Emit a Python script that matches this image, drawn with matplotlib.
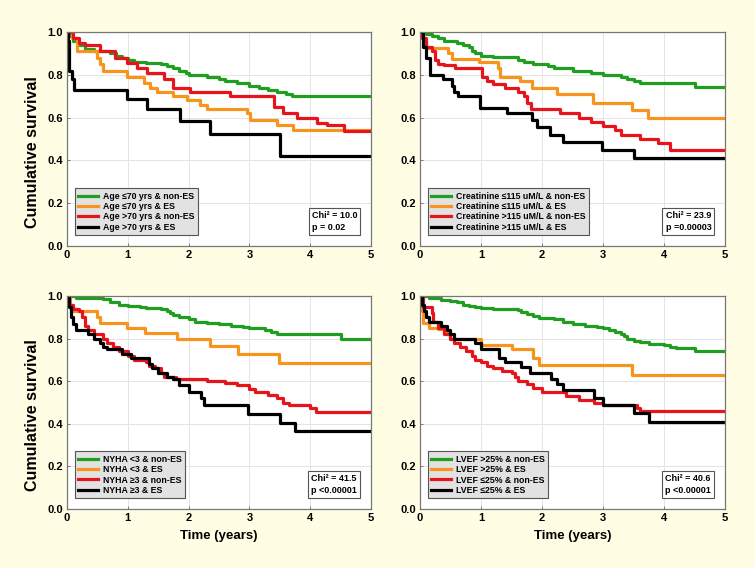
import matplotlib
matplotlib.use("Agg")
import matplotlib.pyplot as plt

plt.rcParams['font.family'] = ['Liberation Sans', 'DejaVu Sans']
plt.rcParams['font.weight'] = 'bold'

BG = '#fffde3'
COLORS = ['#1f9e1f', '#f7941d', '#e8141c', '#000000']

# ---- panel 1: age ----
age_labels = ['Age ≤70 yrs & non-ES', 'Age ≤70 yrs & ES',
              'Age >70 yrs & non-ES', 'Age >70 yrs & ES']
age_t = [
    [0, 0.05, 0.1, 0.2, 0.3, 0.45, 0.7, 0.8, 0.9, 1.0, 1.1, 1.3, 1.55, 1.65, 1.75, 1.85, 1.95, 2.0,
     2.3, 2.5, 2.6, 2.8, 3.0, 3.15, 3.3, 3.45, 3.6, 3.7],
    [0, 0.08, 0.16, 0.49, 0.55, 0.6, 0.99, 1.26, 1.37, 1.48, 1.75, 1.97, 2.19, 2.3, 2.96, 3.01,
     3.45, 3.72],
    [0, 0.1, 0.2, 0.3, 0.55, 0.79, 0.99, 1.15, 1.31, 1.59, 1.75, 2.03, 2.68, 3.4, 3.56, 3.78,
     4.11, 4.27, 4.55],
    [0, 0.02, 0.04, 0.08, 0.12, 0.99, 1.31, 1.86, 2.35, 3.5],
]
age_s = [
    [1.0, 0.98, 0.96, 0.94, 0.92, 0.91, 0.90, 0.89, 0.88, 0.87, 0.86, 0.855, 0.85, 0.84, 0.83, 0.82,
     0.81, 0.80, 0.79, 0.78, 0.77, 0.76, 0.75, 0.74, 0.73, 0.72, 0.71, 0.70],
    [1.0, 0.97, 0.91, 0.88, 0.85, 0.82, 0.79, 0.76, 0.74, 0.72, 0.70, 0.68, 0.66, 0.64, 0.62, 0.59,
     0.565, 0.54],
    [1.0, 0.97, 0.95, 0.94, 0.91, 0.878, 0.855, 0.83, 0.81, 0.78, 0.74, 0.72, 0.70, 0.65, 0.62,
     0.60, 0.575, 0.565, 0.537],
    [1.0, 0.96, 0.82, 0.78, 0.73, 0.685, 0.64, 0.585, 0.525, 0.42],
]

# ---- panel 2: creatinine ----
cr_labels = ['Creatinine ≤115 uM/L & non-ES', 'Creatinine ≤115 uM/L & ES',
             'Creatinine >115 uM/L & non-ES', 'Creatinine >115 uM/L & ES']
cr_t = [
    [0, 0.1, 0.2, 0.3, 0.4, 0.6, 0.7, 0.8, 0.85, 0.9, 1.0, 1.2, 1.6, 1.7, 1.85, 2.1, 2.2, 2.5, 2.8,
     3.0, 3.3, 3.4, 3.5, 3.6, 4.5],
    [0, 0.05, 0.1, 0.46, 0.52, 0.96, 1.28, 1.31, 1.64, 1.83, 2.24, 2.84, 3.47, 3.74],
    [0, 0.03, 0.1, 0.2, 0.25, 0.3, 0.4, 0.57, 1.01, 1.1, 1.2, 1.4, 1.6, 1.7, 1.75, 1.82, 2.3, 2.6,
     2.8, 3.0, 3.2, 3.3, 3.6, 3.9, 4.1],
    [0, 0.05, 0.1, 0.17, 0.38, 0.52, 0.55, 0.62, 0.98, 1.42, 1.83, 1.92, 2.13, 2.35, 2.98, 3.5],
]
cr_s = [
    [1.0, 0.99, 0.98, 0.97, 0.96, 0.95, 0.94, 0.93, 0.91, 0.90, 0.89, 0.885, 0.87, 0.86, 0.85, 0.84,
     0.83, 0.82, 0.81, 0.80, 0.79, 0.78, 0.77, 0.76, 0.745],
    [1.0, 0.96, 0.925, 0.90, 0.875, 0.86, 0.83, 0.79, 0.77, 0.74, 0.71, 0.67, 0.635, 0.60],
    [1.0, 0.97, 0.93, 0.91, 0.87, 0.85, 0.845, 0.83, 0.79, 0.77, 0.755, 0.74, 0.72, 0.70, 0.67,
     0.64, 0.62, 0.60, 0.58, 0.56, 0.54, 0.52, 0.50, 0.48, 0.45],
    [1.0, 0.93, 0.88, 0.80, 0.78, 0.75, 0.72, 0.70, 0.647, 0.62, 0.59, 0.555, 0.52, 0.487, 0.45,
     0.41],
]

# ---- panel 3: NYHA ----
ny_labels = ['NYHA <3 & non-ES', 'NYHA <3 & ES', 'NYHA ≥3 & non-ES', 'NYHA ≥3 & ES']
ny_t = [
    [0, 0.15, 0.6, 0.7, 0.85, 1.0, 1.2, 1.3, 1.55, 1.65, 1.7, 1.75, 1.85, 2.0, 2.1, 2.3, 2.5, 2.7,
     2.9, 3.0, 3.25, 3.35, 3.45, 4.5],
    [0, 0.05, 0.1, 0.49, 0.55, 0.99, 1.29, 1.81, 2.35, 2.82, 3.48],
    [0, 0.03, 0.1, 0.2, 0.25, 0.3, 0.35, 0.45, 0.6, 0.65, 0.75, 0.85, 1.0, 1.1, 1.3, 1.35, 1.45,
     1.55, 1.6, 1.8, 2.3, 2.6, 2.8, 3.0, 3.1, 3.3, 3.45, 3.55, 3.65, 4.0, 4.1],
    [0, 0.03, 0.07, 0.1, 0.15, 0.35, 0.45, 0.55, 0.6, 0.65, 0.9, 1.05, 1.35, 1.4, 1.5, 1.65, 1.75,
     1.85, 2.0, 2.2, 2.25, 2.98, 3.5, 3.75],
]
ny_s = [
    [1.0, 0.99, 0.985, 0.97, 0.96, 0.955, 0.95, 0.945, 0.94, 0.93, 0.92, 0.91, 0.90, 0.89, 0.88,
     0.875, 0.87, 0.86, 0.855, 0.85, 0.84, 0.83, 0.82, 0.80],
    [1.0, 0.96, 0.93, 0.90, 0.875, 0.85, 0.825, 0.80, 0.765, 0.73, 0.685],
    [1.0, 0.96, 0.94, 0.93, 0.90, 0.86, 0.84, 0.82, 0.80, 0.78, 0.76, 0.74, 0.72, 0.70, 0.69, 0.67,
     0.66, 0.64, 0.62, 0.61, 0.60, 0.59, 0.58, 0.565, 0.55, 0.535, 0.52, 0.50, 0.49, 0.475, 0.456],
    [1.0, 0.95, 0.90, 0.87, 0.84, 0.82, 0.80, 0.78, 0.76, 0.75, 0.73, 0.71, 0.68, 0.66, 0.64, 0.62,
     0.61, 0.58, 0.55, 0.52, 0.487, 0.445, 0.405, 0.365],
]

# ---- panel 4: LVEF ----
lv_labels = ['LVEF >25% & non-ES', 'LVEF >25% & ES', 'LVEF ≤25% & non-ES', 'LVEF ≤25% & ES']
lv_t = [
    [0, 0.15, 0.35, 0.5, 0.6, 0.7, 0.8, 0.9, 1.0, 1.2, 1.6, 1.65, 1.75, 1.85, 1.95, 2.2, 2.35, 2.5,
     2.7, 2.9, 3.0, 3.1, 3.2, 3.3, 3.35, 3.4, 3.5, 3.6, 3.75, 4.0, 4.1, 4.2, 4.5],
    [0, 0.03, 0.05, 0.15, 0.3, 0.4, 0.5, 1.0, 1.5, 1.85, 1.95, 3.48],
    [0, 0.05, 0.2, 0.22, 0.3, 0.4, 0.5, 0.55, 0.65, 0.75, 0.85, 0.9, 1.0, 1.1, 1.2, 1.35, 1.5,
     1.55, 1.6, 1.75, 1.85, 2.0, 2.4, 2.6, 2.85, 3.0, 3.55, 3.6],
    [0, 0.03, 0.06, 0.1, 0.15, 0.35, 0.45, 0.5, 0.55, 0.9, 1.0, 1.3, 1.4, 1.65, 1.8, 2.15, 2.25,
     2.35, 2.85, 3.0, 3.5, 3.75],
]
lv_s = [
    [1.0, 0.99, 0.98, 0.975, 0.97, 0.96, 0.955, 0.95, 0.945, 0.94, 0.935, 0.925, 0.915, 0.905,
     0.895, 0.89, 0.88, 0.87, 0.86, 0.855, 0.85, 0.84, 0.83, 0.82, 0.81, 0.80, 0.79, 0.785, 0.775,
     0.77, 0.76, 0.755, 0.742],
    [1.0, 0.93, 0.875, 0.85, 0.845, 0.83, 0.80, 0.77, 0.75, 0.71, 0.675, 0.631],
    [1.0, 0.95, 0.92, 0.88, 0.85, 0.82, 0.80, 0.78, 0.76, 0.74, 0.72, 0.70, 0.69, 0.67, 0.66, 0.65,
     0.64, 0.62, 0.60, 0.586, 0.57, 0.547, 0.53, 0.51, 0.50, 0.488, 0.475, 0.459],
    [1.0, 0.96, 0.93, 0.90, 0.88, 0.86, 0.84, 0.82, 0.80, 0.78, 0.75, 0.71, 0.69, 0.665, 0.64,
     0.61, 0.585, 0.557, 0.52, 0.487, 0.45, 0.41],
]

chi_texts = ['Chi² = 10.0\np = 0.02', 'Chi² = 23.9\np =0.00003',
             'Chi² = 41.5\np <0.00001', 'Chi² = 40.6\np <0.00001']

panels = [
    (age_t, age_s, age_labels, chi_texts[0]),
    (cr_t, cr_s, cr_labels, chi_texts[1]),
    (ny_t, ny_s, ny_labels, chi_texts[2]),
    (lv_t, lv_s, lv_labels, chi_texts[3]),
]

W, H = 755, 568
fig = plt.figure(figsize=(W / 100, H / 100), dpi=100, facecolor=BG)

boxes = [
    (67, 32, 371, 246),
    (420, 32, 725, 246),
    (67, 296, 371, 509),
    (420, 296, 725, 509),
]

for i, (times, surv, labels, chi) in enumerate(panels):
    x0, y0, x1, y1 = boxes[i]
    ax = fig.add_axes([x0 / W, 1 - y1 / H, (x1 - x0) / W, (y1 - y0) / H])
    ax.set_facecolor('white')
    for t, s, lab, c in zip(times, surv, labels, COLORS):
        ax.step(list(t) + [5], list(s) + [s[-1]], where='post', color=c, lw=2.3, label=lab)
    ax.set_xlim(0, 5)
    ax.set_ylim(0, 1)
    ax.set_xticks([0, 1, 2, 3, 4, 5])
    ax.set_yticks([0, 0.2, 0.4, 0.6, 0.8, 1.0])
    ax.set_yticklabels(['0.0', '0.2', '0.4', '0.6', '0.8', '1.0'])
    ax.grid(True, color='#e4e4e4', lw=0.7)
    ax.set_axisbelow(True)
    ax.tick_params(direction='in', length=2, width=0.7, labelsize=8, pad=3, color='#777777')
    for lbl in ax.get_xticklabels() + ax.get_yticklabels():
        lbl.set_fontweight('bold')
    for sp in ax.spines.values():
        sp.set_color('#777777')
        sp.set_linewidth(0.9)
    if i % 2 == 0:
        ax.set_ylabel('Cumulative survival', fontsize=11.5, fontweight='bold')
        ax.yaxis.set_label_coords(-0.09, 0.44)
    if i >= 2:
        ax.set_xlabel('Time (years)', fontsize=9.5, fontweight='bold', labelpad=5)
    leg = ax.legend(loc='lower left', bbox_to_anchor=(0.025, 0.05), fontsize=6.3,
                    frameon=True, fancybox=False, handlelength=2.3, handletextpad=0.5,
                    labelspacing=0.15, borderpad=0.4, borderaxespad=0)
    leg.get_frame().set_facecolor('#e2e2e2')
    leg.get_frame().set_edgecolor('#555555')
    leg.get_frame().set_linewidth(0.8)
    leg.get_frame().set_alpha(1)
    for txt in leg.get_texts():
        txt.set_fontweight('bold')
    ax.text(0.955, 0.065, chi, transform=ax.transAxes, ha='right', va='bottom',
            multialignment='left', fontsize=6.5, fontweight='bold', linespacing=1.4,
            bbox=dict(boxstyle='square,pad=0.35', facecolor='white', edgecolor='#555555', lw=0.8))

fig.savefig('out.png', dpi=100, facecolor=BG)
